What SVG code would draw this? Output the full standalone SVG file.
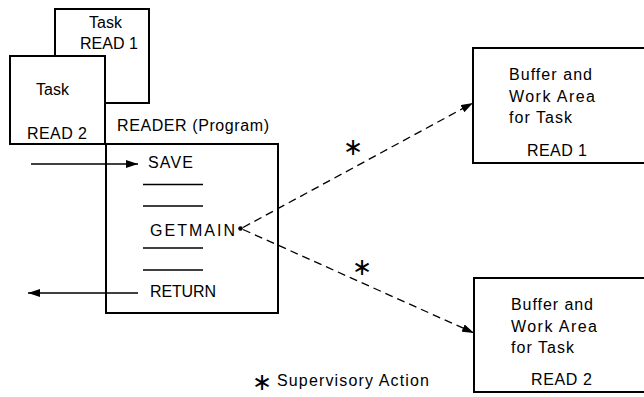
<svg xmlns="http://www.w3.org/2000/svg" width="644" height="397" viewBox="0 0 644 397">
  <style>
    .box { fill: #ffffff; stroke: #000000; stroke-width: 2; }
    .rule { stroke: #000000; stroke-width: 1.3; fill: none; }
    .flow { stroke: #000000; stroke-width: 1.3; fill: none; }
    .dash { stroke: #000000; stroke-width: 1.3; fill: none; stroke-dasharray: 8 5; }
    text { font-family: "Liberation Sans", Arial, sans-serif; font-size: 16px; fill: #000000; }
    .star { font-family: "DejaVu Sans", sans-serif; font-size: 24px; text-anchor: middle; }
  </style>
  <defs>
    <marker id="head" viewBox="0 0 12 8" refX="12" refY="4" markerWidth="12" markerHeight="8" markerUnits="userSpaceOnUse" orient="auto">
      <path d="M0,0 L12,4 L0,8 Z" fill="#000000"/>
    </marker>
  </defs>

  <rect width="644" height="397" fill="#ffffff"/>

  <!-- task READ 1 (behind READ 2) -->
  <g id="task-read1">
    <rect class="box" x="55" y="9" width="94" height="94"/>
    <text x="89" y="28" textLength="33" lengthAdjust="spacing">Task</text>
    <text x="80" y="49" textLength="58" lengthAdjust="spacing">READ 1</text>
  </g>

  <!-- task READ 2 -->
  <g id="task-read2">
    <rect class="box" x="10" y="56" width="95" height="88"/>
    <text x="36" y="95" textLength="33" lengthAdjust="spacing">Task</text>
    <text x="27" y="139" textLength="60" lengthAdjust="spacing">READ 2</text>
  </g>

  <!-- READER program -->
  <g id="reader">
    <text x="117" y="131" textLength="152" lengthAdjust="spacing">READER (Program)</text>
    <rect class="box" x="106" y="144" width="172" height="169" fill="none"/>
    <text x="148" y="168" textLength="45" lengthAdjust="spacing">SAVE</text>
    <line class="rule" x1="143" y1="184.5" x2="203" y2="184.5"/>
    <line class="rule" x1="143" y1="206" x2="203" y2="206"/>
    <text x="150" y="236" textLength="85" lengthAdjust="spacing">GETMAIN</text>
    <circle cx="240.5" cy="228.5" r="2.3"/>
    <line class="rule" x1="143" y1="248" x2="203" y2="248"/>
    <line class="rule" x1="143" y1="270" x2="203" y2="270"/>
    <text x="150" y="297" textLength="66" lengthAdjust="spacing">RETURN</text>
  </g>

  <!-- buffer for READ 1 -->
  <g id="buffer-read1">
    <rect class="box" x="473" y="48" width="180" height="115"/>
    <text x="509" y="80" textLength="83" lengthAdjust="spacing">Buffer and</text>
    <text x="509" y="102" textLength="86" lengthAdjust="spacing">Work Area</text>
    <text x="509" y="123" textLength="63" lengthAdjust="spacing">for Task</text>
    <text x="527" y="156" textLength="60" lengthAdjust="spacing">READ 1</text>
  </g>

  <!-- buffer for READ 2 -->
  <g id="buffer-read2">
    <rect class="box" x="474" y="278" width="180" height="114"/>
    <text x="511" y="310" textLength="82" lengthAdjust="spacing">Buffer and</text>
    <text x="511" y="332" textLength="86" lengthAdjust="spacing">Work Area</text>
    <text x="511" y="353" textLength="63" lengthAdjust="spacing">for Task</text>
    <text x="531" y="385" textLength="61" lengthAdjust="spacing">READ 2</text>
  </g>

  <!-- connectors -->
  <g id="connectors">
    <line class="flow" x1="31" y1="164" x2="138" y2="164" marker-end="url(#head)"/>
    <line class="flow" x1="138" y1="293" x2="28" y2="293" marker-end="url(#head)"/>
    <line class="dash" x1="243" y1="227.5" x2="473" y2="103" marker-end="url(#head)"/>
    <line class="dash" x1="243" y1="229.5" x2="474" y2="333" marker-end="url(#head)"/>
    <text class="star" x="353" y="155">∗</text>
    <text class="star" x="362" y="275">∗</text>
  </g>

  <!-- legend -->
  <g id="legend">
    <text class="star" x="262" y="390">∗</text>
    <text x="277" y="386" textLength="152" lengthAdjust="spacing">Supervisory Action</text>
  </g>
</svg>
